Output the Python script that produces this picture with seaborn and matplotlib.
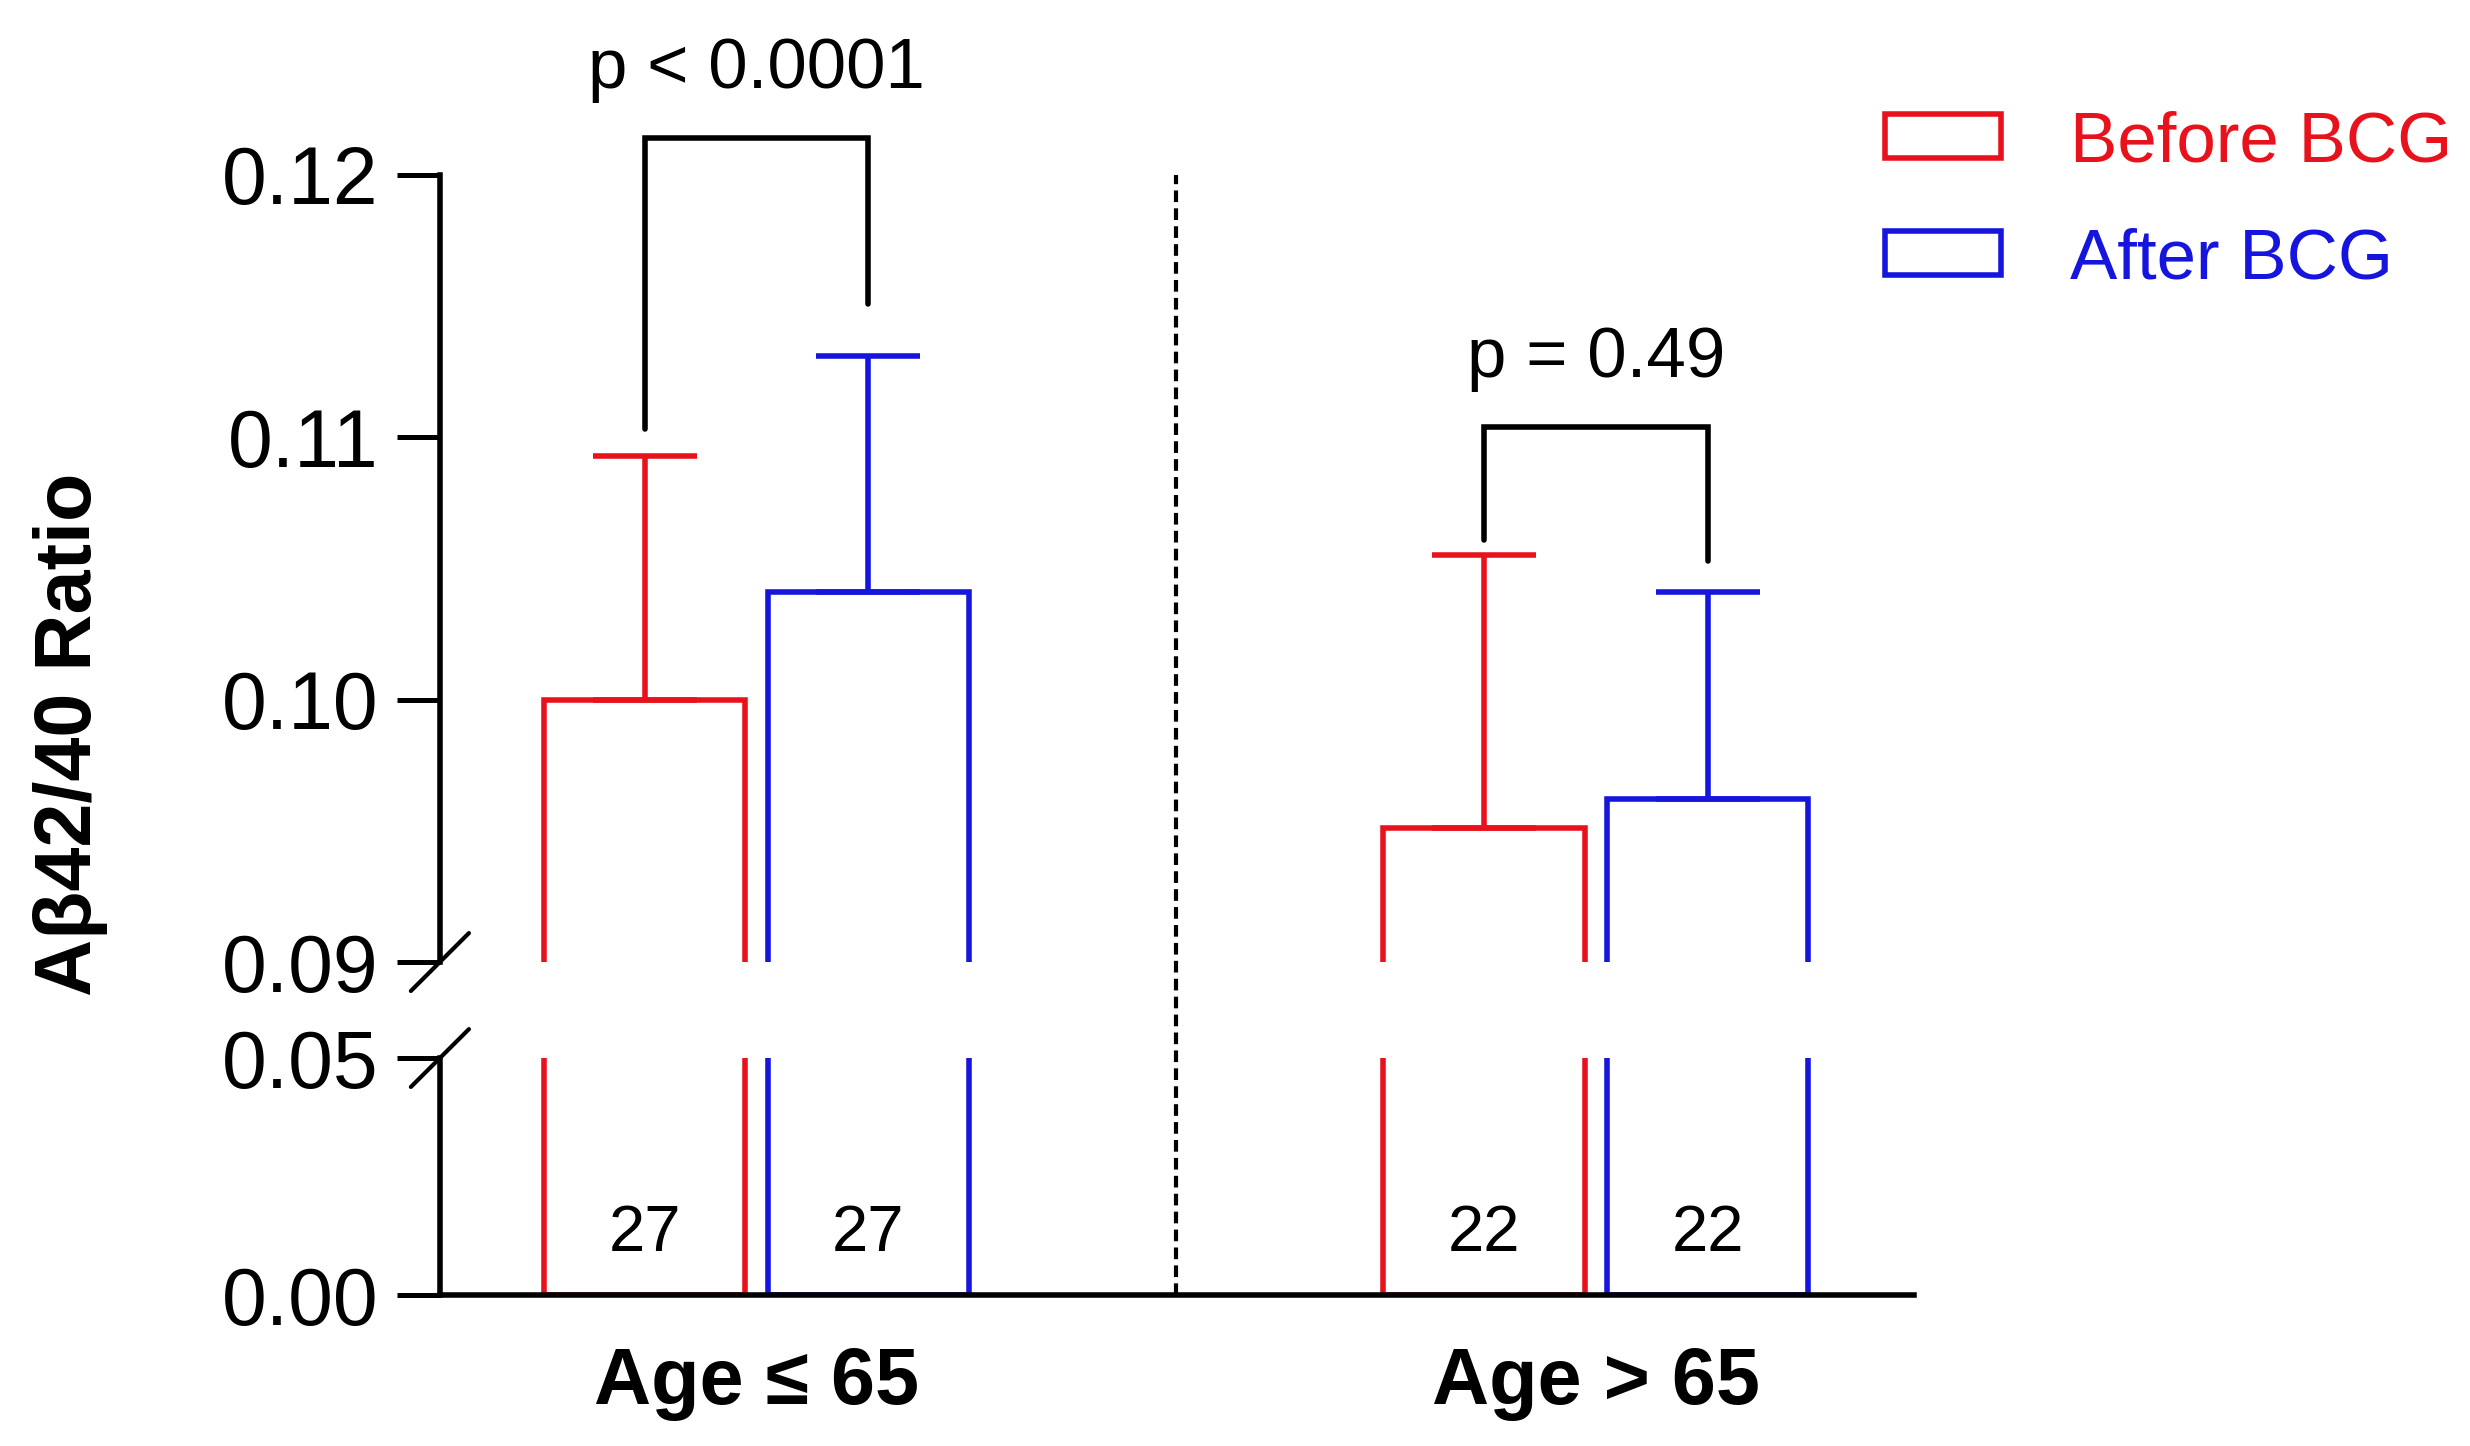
import numpy as np
import pandas as pd
import matplotlib.pyplot as plt
import seaborn as sns
from matplotlib.patches import Patch

# Values
groups = ["Age \u2264 65", "Age > 65"]
conditions = ["Before BCG", "After BCG"]
mean_before = [0.1000, 0.0951]
mean_after = [0.1041, 0.0962]
sd_before = [0.0093, 0.0104]
sd_after = [0.0090, 0.0079]
n_before = [27, 22]
n_after = [27, 22]
p_labels = ["p < 0.0001", "p = 0.49"]
bracket_top = [0.1214, 0.1104]
bracket_left_end = [0.1103, 0.1061]
bracket_right_end = [0.1151, 0.1053]
colors = ["#E8121C", "#1515DD"]

df = pd.DataFrame({
    "group": groups * 2,
    "condition": [conditions[0]] * 2 + [conditions[1]] * 2,
    "ratio": mean_before + mean_after,
})
means = [mean_before, mean_after]
sds = [sd_before, sd_after]
ns = [n_before, n_after]

# Style
sns.set_style("white")
plt.rcParams["font.family"] = ["Liberation Sans", "DejaVu Sans"]
plt.rcParams.update({
    "text.color": "black",
    "axes.edgecolor": "black",
    "xtick.color": "black",
    "ytick.color": "black",
})

fig = plt.figure(figsize=(24.7, 14.46), dpi=100)
ax_top = fig.add_axes([0.1781, 0.3347, 0.5968, 0.5443])
ax_bot = fig.add_axes([0.1781, 0.1044, 0.5968, 0.1639])

for ax in (ax_top, ax_bot):
    sns.barplot(
        data=df,
        x="group",
        y="ratio",
        hue="condition",
        order=groups,
        hue_order=conditions,
        palette=colors,
        fill=False,
        width=0.533,
        gap=0.1,
        linewidth=4.0,
        errorbar=None,
        legend=False,
        ax=ax
    )
    ax.set_xlim(-0.377, 1.379)
    ax.set_xlabel("")
    ax.set_ylabel("")
    for side in ["top", "right"]:
        ax.spines[side].set_visible(False)
    for side in ["left", "bottom"]:
        ax.spines[side].set_linewidth(4.0)
        ax.spines[side].set_zorder(5)
    ax.tick_params(axis="y", left=True, length=31, width=3.6, labelsize=58,
                   pad=13, color="black", labelcolor="black")

# Upper segment
ax_top.set_ylim(0.09, 0.12)
ax_top.set_yticks([0.09, 0.10, 0.11, 0.12])
ax_top.set_yticklabels([f"{v:.2f}" for v in [0.09, 0.10, 0.11, 0.12]])
ax_top.spines["bottom"].set_visible(False)
ax_top.tick_params(axis="x", bottom=False, labelbottom=False)

# Lower segment
ax_bot.set_ylim(0, 0.05)
ax_bot.set_yticks([0.0, 0.05])
ax_bot.set_yticklabels([f"{v:.2f}" for v in [0.0, 0.05]])
ax_bot.tick_params(axis="x", bottom=False, length=0, pad=37, labelsize=57,
                   labelcolor="black")
for lab in ax_bot.get_xticklabels():
    lab.set_fontweight("bold")

# Error bars (upper only) and n labels
bar_containers = list(ax_top.containers)
centers = [[], []]
for k, container in enumerate(bar_containers):
    for j, bar in enumerate(container):
        cx = bar.get_x() + bar.get_width() / 2
        centers[k].append(cx)
        ax_top.errorbar(
            cx, means[k][j], yerr=[[0], [sds[k][j]]],
            color=colors[k], elinewidth=4.0, capsize=37.8, capthick=4.0
        )
        ax_bot.text(cx, 0.0093, str(ns[k][j]), ha="center",
                    va="baseline", fontsize=47)

# Significance brackets
for j in range(len(groups)):
    xl, xr = centers[0][j], centers[1][j]
    ax_top.plot(
        [xl, xl, xr, xr],
        [bracket_left_end[j], bracket_top[j], bracket_top[j], bracket_right_end[j]],
        color="black", lw=4.0, clip_on=False, solid_joinstyle="miter"
    )
    ax_top.annotate(
        p_labels[j], xy=((xl + xr) / 2, bracket_top[j]),
        xytext=(0, 36), textcoords="offset points",
        ha="center", va="baseline", fontsize=51, annotation_clip=False
    )

# Dashed separator between age groups
ax_bot.axvline(0.5, ymin=0, ymax=4.726, clip_on=False, color="black",
               lw=3.0, ls=(0, (2.8, 1.5)))

# Axis break marks
dx, dy_top, dy_bot = 0.0197, 0.0368, 0.122
ax_top.plot([-dx, dx], [-dy_top, dy_top], transform=ax_top.transAxes,
            color="black", lw=3.0, clip_on=False)
ax_bot.plot([-dx, dx], [1 - dy_bot, 1 + dy_bot], transform=ax_bot.transAxes,
            color="black", lw=3.0, clip_on=False)

# Y label
fig.text(71 / 2470, 1 - 734 / 1446, "A\u03b242/40 Ratio", rotation=90,
         ha="center", va="center", fontsize=57, fontweight="bold")

# Legend
handles = [Patch(facecolor="none", edgecolor=c, linewidth=4.0, label=l)
           for c, l in zip(colors, conditions)]
leg = fig.legend(
    handles=handles,
    loc="upper left",
    bbox_to_anchor=(0.763, 0.9237),
    frameon=False,
    fontsize=51,
    handlelength=1.65,
    handleheight=0.58,
    handletextpad=0.97,
    labelspacing=0.72,
    borderpad=0,
    borderaxespad=0
)
for text, c in zip(leg.get_texts(), colors):
    text.set_color(c)

plt.savefig("out.png", dpi=100)
plt.close()
